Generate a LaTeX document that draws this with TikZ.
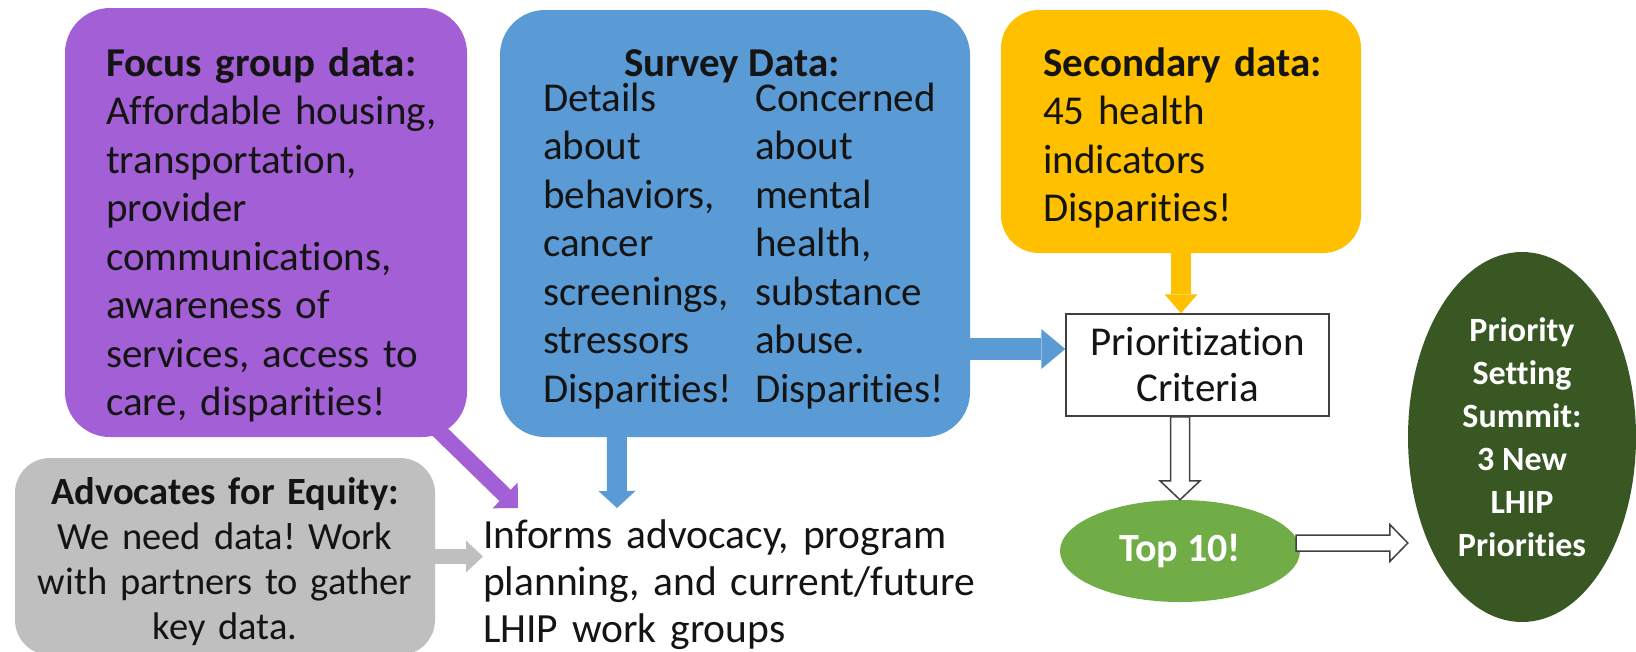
\documentclass[tikz,border=0pt]{standalone}
\usepackage{fontspec}
\setmainfont{Carlito}[Ligatures={NoCommon}]
\usetikzlibrary{arrows.meta,calc,shapes.geometric}
\definecolor{purpleC}{RGB}{163,95,214}
\definecolor{blueC}{RGB}{91,155,213}
\definecolor{yellowC}{RGB}{255,192,0}
\definecolor{grayC}{RGB}{191,191,191}
\definecolor{lgreenC}{RGB}{112,173,71}
\definecolor{dgreenC}{RGB}{56,87,35}
\definecolor{txtC}{RGB}{20,20,20}
\definecolor{lineC}{RGB}{64,64,64}
\newcommand{\bigfont}{\fontsize{41}{48.5}\selectfont}
\newcommand{\grayfont}{\fontsize{38.5}{45}\selectfont}
\newcommand{\infofont}{\fontsize{41.5}{47}\selectfont}
\newcommand{\prfont}{\fontsize{41}{46}\selectfont}
\newcommand{\dgfont}{\fontsize{34}{43}\selectfont\bfseries}
\frenchspacing
\begin{document}
\begin{tikzpicture}[x=1pt,y=-1pt,
  databox/.style={rectangle, rounded corners=#1, inner sep=0pt},
  boxtext/.style={anchor=base west, inner sep=0pt, align=left, text=txtC, font=\bigfont},
  fat/.style n args={4}{draw=#1, line width=#2, -{Triangle[length=#3, width=#4, line width=0pt, fill=#1]}},
  hollow/.style={draw=lineC, line width=1.5pt, fill=white, line join=miter},
]
\fill[white] (0,0) rectangle (1636,651);
\useasboundingbox (0,0) rectangle (1636,651);

% coloured boxes
\node[databox=45pt, fill=purpleC, minimum width=402pt, minimum height=429pt] (purple) at (266,222.5) {};
\node[databox=45pt, fill=blueC, minimum width=470pt, minimum height=427pt] (blue) at (735,223.5) {};
\node[databox=38pt, fill=yellowC, minimum width=360pt, minimum height=243pt] (yellow) at (1181,131.5) {};
\node[databox=35pt, fill=grayC, minimum width=420pt, minimum height=197pt] (gray) at (225,556.5) {};

% texts in the boxes
\node[boxtext, text width=360pt] (purpleT) at (106,76)
  {\textbf{Focus group data:}\\Affordable housing,\\transportation,\\provider\\communications,\\awareness of\\services, access to\\care, disparities!};
\node[anchor=base, inner sep=0pt, text=txtC, font=\bigfont\bfseries] (blueT) at (732,76) {Survey Data:};
\node[boxtext, text width=205pt] (blueL) at (543,111)
  {Details\\about\\behaviors,\\cancer\\screenings,\\stressors\\Disparities!};
\node[boxtext, text width=205pt] (blueR) at (755,111)
  {Concerned\\about\\mental\\health,\\substance\\abuse.\\Disparities!};
\node[boxtext, text width=310pt] (yellowT) at (1043,76)
  {\textbf{Secondary data:}\\45 health\\indicators\\Disparities!};
\node[anchor=base, inner sep=0pt, align=center, text width=410pt, text=txtC, font=\grayfont] (grayT) at (225,504)
  {\textbf{Advocates for Equity:}\\We need data! Work\\with partners to gather\\key data.};

\node[anchor=base west, inner xsep=0pt, inner ysep=11pt, align=left, text width=500pt, font=\infofont, text=txtC] (informs) at (483,548)
  {Informs advocacy, program\\planning, and current/future\\LHIP work groups};

\node[rectangle, draw=lineC, line width=1.5pt, fill=white, minimum width=263pt, minimum height=102pt, inner sep=0pt, align=center, font=\prfont, text=txtC] (prio) at (1197.5,365) {Prioritization\\Criteria};

\node[ellipse, fill=lgreenC, minimum width=240pt, minimum height=102pt, inner sep=0pt, text=white, font=\fontsize{40}{46}\selectfont\bfseries] (top) at (1180,551) {Top 10!};
\node[ellipse, fill=dgreenC, minimum width=228pt, minimum height=370pt, inner sep=0pt, text=white, align=center, font=\dgfont] (dg) at (1522,437) {Priority\\Setting\\Summit:\\3 New\\LHIP\\Priorities};

% solid arrows
\draw[fat={purpleC}{16pt}{18pt}{36pt}] ($(purple.south east)+(-30,-8)$) -- ($(informs.north west)+(35,0)$);
\draw[fat={blueC}{20pt}{17pt}{37pt}] ($(blue.south west)+(117,0)$) -- ($(informs.north west)+(134,0)$);
\draw[fat={grayC}{15pt}{17pt}{32pt}] (gray.east) -- (informs.west |- gray.east);
\coordinate (by) at ($(prio.west)+(0,-16)$);
\draw[fat={blueC}{22pt}{24pt}{40pt}] (blue.east |- by) -- (by);
\draw[fat={yellowC}{20pt}{19pt}{33pt}] (yellow.south) -- (prio.north -| yellow.south);

% hollow arrows
\coordinate (hd) at (prio.south -| top.north);
\draw[hollow] ($(hd)+(-9.5,0)$) -- ($(top.north)+(-9.5,-19)$) -- ($(top.north)+(-20,-19)$) -- (top.north)
  -- ($(top.north)+(20,-19)$) -- ($(top.north)+(9.5,-19)$) -- ($(hd)+(9.5,0)$) -- cycle;
\coordinate (hr) at ($(top.east)+(-4,-8)$);
\coordinate (hrt) at (dg.west |- hr);
\draw[hollow] ($(hr)+(0,-8)$) -- ($(hrt)+(-18,-8)$) -- ($(hrt)+(-18,-18.5)$) -- (hrt)
  -- ($(hrt)+(-18,18.5)$) -- ($(hrt)+(-18,8)$) -- ($(hr)+(0,8)$) -- cycle;
\end{tikzpicture}
\end{document}
